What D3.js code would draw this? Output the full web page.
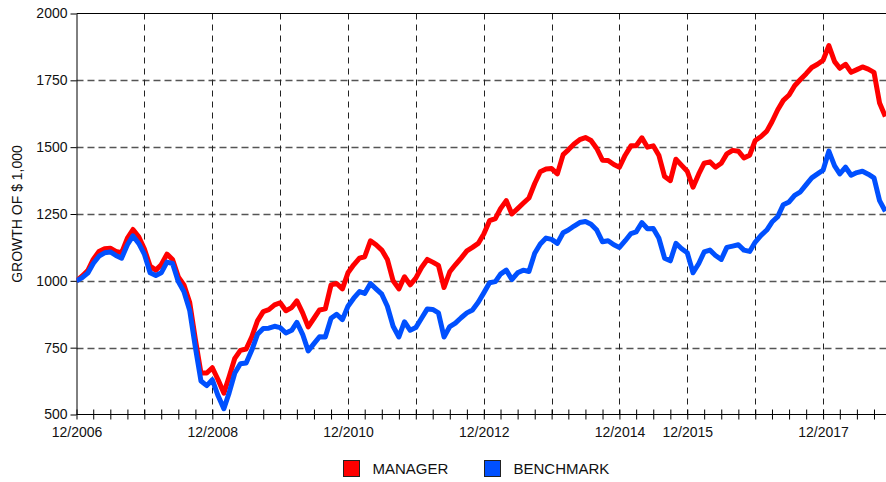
<!DOCTYPE html>
<html>
<head>
<meta charset="utf-8">
<script src="https://cdn.jsdelivr.net/npm/d3@7"></script>
<style>
  html, body { margin: 0; padding: 0; background: #fff; }
  svg { display: block; font-family: "Liberation Sans", Arial, sans-serif; }
</style>
</head>
<body>
<div id="chart"></div>
<script>
// monthly values, first point = 12/2006
const startYear = 2006;
const startMonth = 11; // December (0-based)

const manager = [
  1000, 1018, 1040, 1080, 1110, 1120, 1122, 1110, 1105, 1160,
  1192, 1165, 1120, 1055, 1040, 1060, 1100, 1080, 1015, 985,
  920, 780, 655, 655, 675, 630, 580, 640, 710, 740,
  745, 790, 850, 885, 892, 910, 918, 888, 900, 925,
  880, 828, 860, 891, 895, 985, 990, 970, 1030, 1060,
  1085, 1090, 1150, 1135, 1115, 1080, 1000, 970, 1015, 985,
  1010, 1050, 1080, 1070, 1058, 975, 1034, 1060, 1085, 1112,
  1125, 1140, 1175, 1225, 1233, 1270, 1300, 1250, 1270, 1290,
  1310, 1364, 1408, 1418, 1420, 1400, 1472, 1490, 1512, 1528,
  1536, 1525, 1495, 1451, 1450, 1435, 1425, 1470, 1505, 1505,
  1535, 1500, 1505, 1470, 1390, 1375, 1455, 1432, 1410, 1350,
  1400, 1440, 1445, 1425, 1440, 1475, 1488, 1485, 1460, 1470,
  1525, 1540, 1560, 1595, 1640, 1675, 1695, 1730, 1753, 1775,
  1798, 1810, 1825, 1880, 1820, 1795, 1810, 1780, 1790, 1800,
  1792, 1780, 1665, 1615
];

const benchmark = [
  1000, 1012, 1030, 1065, 1092, 1105, 1108, 1095, 1085, 1135,
  1168, 1140, 1100, 1030, 1020, 1030, 1070, 1065, 997, 960,
  890, 750, 625, 608, 630, 570, 522, 580, 655, 690,
  693, 740, 800, 822, 823, 830, 825, 805, 815, 845,
  800, 738, 765, 791, 790, 860, 875, 855, 905, 935,
  960, 953, 990, 970, 950, 905, 830, 790, 847, 815,
  825, 860, 895, 893, 880, 790, 829, 842, 862, 880,
  891, 920, 955, 993, 997, 1025, 1040, 1005, 1030, 1040,
  1035, 1103, 1138, 1160, 1155, 1140, 1180, 1190, 1205, 1218,
  1222, 1212, 1190, 1146, 1150, 1135, 1125, 1150, 1177, 1183,
  1218, 1195, 1196, 1160, 1085, 1075, 1140, 1120, 1105, 1030,
  1065, 1108, 1115, 1095, 1080, 1125, 1130, 1135, 1115, 1110,
  1145, 1170, 1190, 1220, 1240, 1285, 1295, 1320, 1333, 1360,
  1385, 1400, 1414, 1485, 1430, 1400, 1425, 1395, 1405, 1410,
  1399, 1385, 1300, 1260
];

const seriesNames = ['MANAGER', 'BENCHMARK'];
const seriesColors = ['#ff0000', '#0050ff'];
const yTicks = [500, 750, 1000, 1250, 1500, 1750, 2000];
const xTickLabels = ['12/2006', '12/2008', '12/2010', '12/2012', '12/2014', '12/2015', '12/2017'];
const gridYears = [2007, 2008, 2009, 2010, 2011, 2012, 2013, 2014, 2015, 2016, 2017];

const W = 886, H = 482;
const plotLeft = 76.5, plotTop = 13.5, plotBottom = 414.5;

const dates = manager.map((_, i) => new Date(startYear, startMonth + i, 1));

const svg = d3.select('#chart').append('svg')
  .attr('width', W).attr('height', H);

const x = d3.scaleTime()
  .domain([new Date(startYear, startMonth, 1), new Date(2018, 11, 1)])
  .range([plotLeft, plotLeft + 814.4]);

const y = d3.scaleLinear()
  .domain([500, 2000])
  .range([plotBottom, plotTop]);

// horizontal grid
svg.append('g')
  .selectAll('line')
  .data(yTicks.filter(v => v > 500 && v < 2000))
  .join('line')
  .attr('x1', plotLeft).attr('x2', W)
  .attr('y1', d => Math.round(y(d)) + 0.5).attr('y2', d => Math.round(y(d)) + 0.5)
  .attr('stroke', '#555').attr('stroke-width', 1.6)
  .attr('stroke-dasharray', '7,4');

// vertical grid, every December
svg.append('g')
  .selectAll('line')
  .data(gridYears.map(yr => new Date(yr, 11, 1)))
  .join('line')
  .attr('x1', d => Math.round(x(d)) + 0.5).attr('x2', d => Math.round(x(d)) + 0.5)
  .attr('y1', plotTop).attr('y2', plotBottom)
  .attr('stroke', '#222').attr('stroke-width', 1)
  .attr('stroke-dasharray', '6,5');

// top border
svg.append('line')
  .attr('x1', plotLeft).attr('x2', W).attr('y1', plotTop).attr('y2', plotTop)
  .attr('stroke', '#000').attr('stroke-width', 1);

// y axis
const yAxis = svg.append('g')
  .attr('transform', `translate(${plotLeft},0)`)
  .call(d3.axisLeft(y).tickValues(yTicks).tickFormat(d3.format('d'))
    .tickSize(6).tickSizeOuter(0).tickPadding(3));
yAxis.select('.domain').attr('stroke', '#000');
yAxis.selectAll('text').attr('font-size', 14).attr('fill', '#111')
  .attr('font-family', '"Liberation Sans", Arial, sans-serif');

// x axis with quarterly ticks
const quarterTicks = d3.range(0, 145, 3).map(i => new Date(startYear, startMonth + i, 1));
const fmt = d3.timeFormat('%m/%Y');
const xAxis = svg.append('g')
  .attr('transform', `translate(0,${plotBottom})`)
  .call(d3.axisBottom(x).tickValues(quarterTicks).tickSize(5).tickSizeOuter(0).tickPadding(8)
    .tickFormat(d => xTickLabels.includes(fmt(d)) ? fmt(d) : ''));
xAxis.select('.domain').attr('d', `M${plotLeft},0H${W}`).attr('stroke', '#000');
xAxis.selectAll('.tick line').attr('y1', -5).attr('y2', 5).attr('stroke', '#000');
xAxis.selectAll('text').attr('font-size', 14).attr('fill', '#111')
  .attr('font-family', '"Liberation Sans", Arial, sans-serif');

// y axis title
svg.append('text')
  .attr('transform', `translate(22,${(plotTop + plotBottom) / 2}) rotate(-90)`)
  .attr('text-anchor', 'middle')
  .attr('font-size', 14).attr('fill', '#111')
  .text('GROWTH OF $ 1,000');

// lines
const line = d3.line()
  .x((d, i) => x(dates[i]))
  .y(d => y(d));

svg.append('clipPath').attr('id', 'plot-clip')
  .append('rect').attr('x', plotLeft).attr('y', plotTop - 10)
  .attr('width', W - plotLeft).attr('height', plotBottom - plotTop + 20);

const lines = svg.append('g').attr('clip-path', 'url(#plot-clip)');
lines.append('path')
  .datum(manager)
  .attr('d', line)
  .attr('fill', 'none')
  .attr('stroke', seriesColors[0])
  .attr('stroke-width', 5)
  .attr('stroke-linejoin', 'round');
lines.append('path')
  .datum(benchmark)
  .attr('d', line)
  .attr('fill', 'none')
  .attr('stroke', seriesColors[1])
  .attr('stroke-width', 5)
  .attr('stroke-linejoin', 'round');

// legend
const legendX = [343.5, 484.5];
const legend = svg.append('g');
seriesNames.forEach((name, i) => {
  legend.append('rect')
    .attr('x', legendX[i]).attr('y', 460.5)
    .attr('width', 16).attr('height', 16)
    .attr('fill', seriesColors[i]).attr('stroke', '#222').attr('stroke-width', 1);
  legend.append('text')
    .attr('x', legendX[i] + 29).attr('y', 474)
    .attr('font-size', 15).attr('fill', '#111')
    .text(name);
});
</script>
</body>
</html>
